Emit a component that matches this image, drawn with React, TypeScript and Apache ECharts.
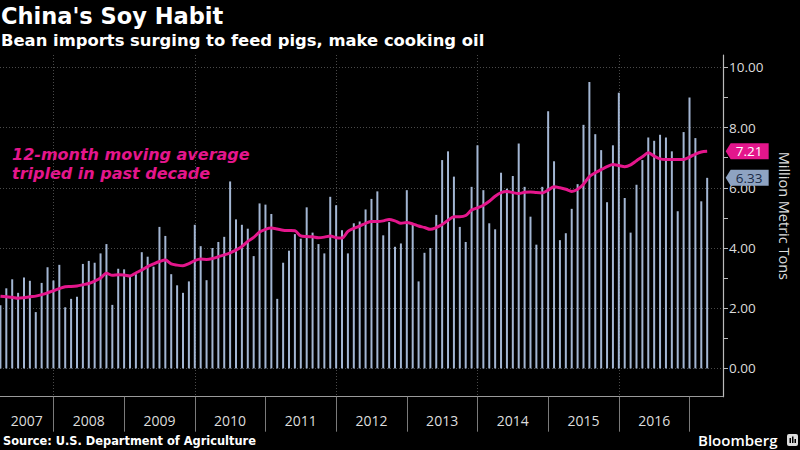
import React, { useEffect, useRef } from 'react';
import * as echarts from 'echarts';

// First month shown: March 2007 (bars sit at month end)
const START_YEAR = 2007;
const START_MONTH = 3;

// China soybean imports, million metric tons (Mar 2007 .. Mar 2017)
const imports = [
  2.10, 2.66, 2.96, 2.51, 3.02, 2.91, 1.87, 2.84, 3.36, 2.92, 3.44, 2.03, 2.31, 2.38, 3.47, 3.57, 3.51, 3.82, 4.13, 2.11, 3.31, 3.29,
  3.07, 3.13, 3.86, 3.71, 3.38, 4.70, 4.40, 3.13, 2.76, 2.51, 2.89, 4.77, 4.06, 2.93, 4.00, 4.20, 4.37, 6.21, 4.95, 4.77, 4.64,
  3.73, 5.48, 5.44, 5.13, 2.31, 3.51, 3.91, 4.46, 4.31, 5.35, 4.51, 4.13, 3.82, 5.70, 5.42, 4.59, 3.82, 4.82, 4.88, 5.28, 5.63,
  5.88, 4.42, 4.86, 4.04, 4.15, 5.92, 4.77, 2.89, 3.84, 4.00, 5.10, 6.92, 7.21, 6.37, 4.70, 4.20, 6.03, 7.41, 5.92, 4.82, 4.62,
  6.50, 5.97, 6.39, 7.47, 6.03, 5.04, 4.11, 6.03, 8.54, 6.88, 4.26, 4.49, 5.30, 6.12, 8.09, 9.51, 7.78, 7.25, 5.52, 7.41, 9.16,
  5.66, 4.51, 6.10, 6.92, 7.67, 7.56, 7.76, 7.67, 7.21, 5.22, 7.85, 9.00, 7.65, 5.55, 6.33,
];

// 12-month moving average, million metric tons
const movingAverage = [
  2.40, 2.38, 2.36, 2.33, 2.35, 2.38, 2.40, 2.45, 2.51, 2.58, 2.65, 2.71, 2.72, 2.74, 2.78, 2.82, 2.90, 3.00, 3.16, 3.09, 3.11, 3.10,
  3.07, 3.17, 3.27, 3.38, 3.47, 3.55, 3.60, 3.47, 3.43, 3.41, 3.48, 3.58, 3.63, 3.62, 3.65, 3.71, 3.77, 3.84, 3.93, 4.05, 4.22,
  4.35, 4.53, 4.62, 4.66, 4.63, 4.59, 4.58, 4.57, 4.40, 4.38, 4.37, 4.34, 4.36, 4.40, 4.34, 4.33, 4.55, 4.65, 4.73, 4.82, 4.88,
  4.88, 4.90, 4.95, 4.90, 4.82, 4.85, 4.80, 4.73, 4.68, 4.62, 4.68, 4.78, 4.92, 5.04, 5.04, 5.08, 5.26, 5.33, 5.42, 5.55, 5.72,
  5.84, 5.88, 5.84, 5.81, 5.85, 5.86, 5.84, 5.83, 5.92, 6.03, 6.00, 5.95, 5.88, 5.95, 6.12, 6.37, 6.50, 6.60, 6.70, 6.77, 6.74,
  6.70, 6.76, 6.90, 7.03, 7.16, 7.05, 6.96, 6.94, 6.94, 6.94, 6.94, 7.02, 7.12, 7.19, 7.21,
];

const yearLabels = ['2007', '2008', '2009', '2010', '2011', '2012', '2013', '2014', '2015', '2016'];
const yearBoundaries = [2008, 2009, 2010, 2011, 2012, 2013, 2014, 2015, 2016, 2017];
const gridYears = [2008, 2010, 2012, 2014, 2016];
const yTickValues = [0, 1, 2, 3, 4, 5, 6, 7, 8, 9, 10];
const yLabelValues = [0, 2, 4, 6, 8, 10];

const X_MIN = 2007.244;
const X_MAX = 2017.474;
const Y_MIN = -0.94;
const Y_MAX = 10.41;

const FONT = '"Open Sans", "Liberation Sans", Arial, sans-serif';
const HEAD_FONT = '"DejaVu Sans", Verdana, sans-serif';
const BAR_COLOR = '#a3b6d3';
const LINE_COLOR = '#e4168c';

const monthPos = (i: number) => START_YEAR + (START_MONTH + i) / 12;

const TAG_PATH = 'path://M0,8 L5,0 L43,0 L43,16 L5,16 Z';

export default function App() {
  const ref = useRef<HTMLDivElement>(null);

  useEffect(() => {
    if (!ref.current) return;
    const chart = echarts.init(ref.current, null, { renderer: 'svg' });

    const barData = imports.map((v, i) => [monthPos(i), v]);
    const lineData = movingAverage.map((v, i) => [monthPos(i), v]);
    const last = imports.length - 1;
    const labelPositions = yearLabels.map((y, k) =>
      k === 0 ? (X_MIN + Number(y) + 1) / 2 : Number(y) + 0.5
    );

    const option: any = {
      backgroundColor: '#000000',
      animation: false,
      grid: { left: 0, right: 65.5, top: 55, bottom: 53.3, containLabel: false },
      xAxis: [
        {
          type: 'value',
          min: X_MIN,
          max: X_MAX,
          axisLine: { show: true, onZero: false, lineStyle: { color: '#9a9a9a', width: 1.2 } },
          axisTick: { show: true, customValues: yearBoundaries, length: 35, lineStyle: { color: '#7a7a7a' } },
          axisLabel: {
            show: true,
            customValues: labelPositions,
            formatter: (v: number) => String(Math.floor(v + 1e-6)),
            color: '#dddddd',
            fontSize: 14,
            fontFamily: FONT,
            margin: 17,
          },
          splitLine: { show: false },
        },
        {
          type: 'value',
          min: X_MIN,
          max: X_MAX,
          position: 'bottom',
          axisLine: { show: false },
          axisTick: { show: false, customValues: gridYears },
          axisLabel: { show: false },
          splitLine: { show: true, lineStyle: { color: '#4a4a4a', type: [1, 2], width: 1 } },
        },
      ],
      yAxis: [
        {
          type: 'value',
          position: 'right',
          min: Y_MIN,
          max: Y_MAX,
          axisLine: { show: true, lineStyle: { color: '#bbbbbb', width: 1.2 } },
          axisTick: { show: true, customValues: yTickValues, length: 5, lineStyle: { color: '#bbbbbb' } },
          axisLabel: {
            show: true,
            customValues: yLabelValues,
            formatter: (v: number) => v.toFixed(2),
            color: '#dddddd',
            fontSize: 13.5,
            fontFamily: FONT,
            margin: 6,
          },
          splitLine: { show: false },
          name: 'Million Metric Tons',
          nameLocation: 'middle',
          nameRotate: -90,
          nameGap: 54,
          nameTextStyle: { color: '#dddddd', fontSize: 14.5, fontFamily: FONT, padding: [0, 20, 0, 0] },
        },
        {
          type: 'value',
          position: 'right',
          min: Y_MIN,
          max: Y_MAX,
          axisLine: { show: false },
          axisTick: { show: false, customValues: yLabelValues },
          axisLabel: { show: false },
          splitLine: { show: true, lineStyle: { color: '#4a4a4a', type: [1, 2], width: 1 } },
        },
      ],
      series: [
        {
          type: 'bar',
          xAxisIndex: 0,
          yAxisIndex: 0,
          data: barData,
          barWidth: 2,
          itemStyle: { color: BAR_COLOR },
          clip: false,
          markPoint: {
            symbol: TAG_PATH,
            symbolSize: [43, 16],
            symbolOffset: [40, 0],
            itemStyle: { color: '#8ea3c2' },
            label: { show: true, color: '#1a2b47', fontSize: 13.5, fontFamily: FONT, offset: [2, 0], formatter: (p: any) => p.value.toFixed(2) },
            data: [{ coord: [monthPos(last), imports[last]], value: imports[last] }],
          },
        },
        {
          type: 'line',
          xAxisIndex: 0,
          yAxisIndex: 0,
          data: lineData,
          symbol: 'none',
          smooth: 0.3,
          lineStyle: { color: LINE_COLOR, width: 3 },
          clip: false,
          z: 5,
          markPoint: {
            symbol: TAG_PATH,
            symbolSize: [43, 16],
            symbolOffset: [40, 0],
            itemStyle: { color: LINE_COLOR },
            label: { show: true, color: '#ffffff', fontSize: 13.5, fontFamily: FONT, offset: [2, 0], formatter: (p: any) => p.value.toFixed(2) },
            data: [{ coord: [monthPos(last), movingAverage[last]], value: movingAverage[last] }],
          },
        },
      ],
      graphic: [
        {
          type: 'text', x: 1, y: 16,
          style: { text: "China's Soy Habit", fill: '#ffffff', font: `bold 22.5px ${HEAD_FONT}`, verticalAlign: 'middle' },
        },
        {
          type: 'text', x: 1, y: 40,
          style: { text: 'Bean imports surging to feed pigs, make cooking oil', fill: '#ffffff', font: `bold 16.4px ${HEAD_FONT}`, verticalAlign: 'middle' },
        },
        {
          type: 'text', x: 12, y: 154.5,
          style: { text: '12-month moving average', fill: LINE_COLOR, font: `italic bold 16px ${HEAD_FONT}`, verticalAlign: 'middle' },
        },
        {
          type: 'text', x: 12, y: 173,
          style: { text: 'tripled in past decade', fill: LINE_COLOR, font: `italic bold 16px ${HEAD_FONT}`, verticalAlign: 'middle' },
        },
        {
          type: 'text', x: 3, y: 441,
          style: { text: 'Source: U.S. Department of Agriculture', fill: '#ffffff', font: `bold 11.4px ${HEAD_FONT}`, verticalAlign: 'middle' },
        },
        {
          type: 'text', x: 698, y: 440,
          style: { text: 'Bloomberg', fill: '#ffffff', font: `600 15px ${FONT}`, verticalAlign: 'middle' },
        },
        {
          type: 'group', x: 787, y: 434,
          children: [
            { type: 'rect', shape: { x: 0, y: 0, width: 11, height: 12, r: 2 }, style: { fill: '#dddddd' } },
            { type: 'rect', shape: { x: 2.5, y: 4, width: 1.5, height: 5 }, style: { fill: '#000000' } },
            { type: 'rect', shape: { x: 5, y: 2.5, width: 1.5, height: 6.5 }, style: { fill: '#000000' } },
            { type: 'rect', shape: { x: 7.5, y: 5, width: 1.5, height: 4 }, style: { fill: '#000000' } },
          ],
        },
      ],
    };

    chart.setOption(option);
    return () => chart.dispose();
  }, []);

  return (
    <div
      ref={ref}
      style={{ position: 'fixed', left: 0, top: 0, width: 800, height: 450, background: '#000' }}
    />
  );
}
